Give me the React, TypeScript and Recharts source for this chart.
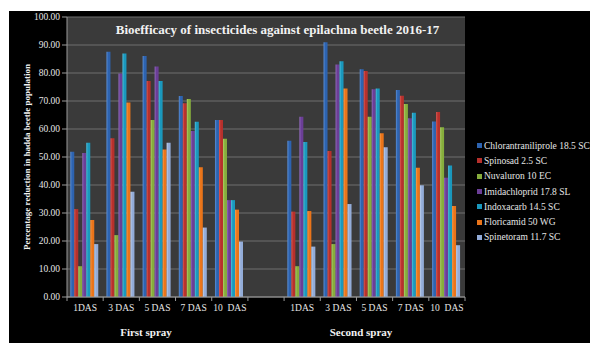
import { BarChart, Bar, XAxis, YAxis, CartesianGrid } from 'recharts';

const categories = ['1DAS', '3 DAS', '5 DAS', '7 DAS', '10  DAS', '', '1DAS', '3 DAS', '5 DAS', '7 DAS', '10  DAS'];

const chlorantraniliprole = [51.9, 87.6, 86.1, 71.8, 63.2, null, 55.8, 91.0, 81.3, 73.9, 62.7];
const spinosad = [31.4, 56.7, 77.1, 69.2, 63.2, null, 30.5, 52.1, 80.7, 71.9, 66.1];
const novaluron = [11.0, 22.1, 63.2, 70.7, 56.5, null, 11.0, 18.9, 64.4, 68.9, 60.6];
const imidacloprid = [51.4, 79.8, 82.3, 59.3, 34.6, null, 64.4, 83.0, 74.2, 63.8, 42.6];
const indoxacarb = [55.1, 87.0, 77.1, 62.6, 34.6, null, 55.4, 84.2, 74.5, 65.8, 47.0];
const flonicamid = [27.5, 69.5, 52.7, 46.3, 31.2, null, 30.7, 74.5, 58.5, 46.2, 32.5];
const spinetoram = [18.9, 37.6, 55.1, 24.8, 19.8, null, 18.0, 33.2, 53.5, 39.9, 18.5];

const yTicks = [0, 10, 20, 30, 40, 50, 60, 70, 80, 90, 100];

const series = [
  { key: 'chl', name: 'Chlorantraniliprole 18.5 SC', values: chlorantraniliprole, color: '#2d63b0', light: '#5b8fd6' },
  { key: 'spi', name: 'Spinosad 2.5 SC', values: spinosad, color: '#b7302c', light: '#dc5a55' },
  { key: 'nov', name: 'Nuvaluron 10 EC', values: novaluron, color: '#86ad3c', light: '#afd066' },
  { key: 'imi', name: 'Imidachloprid 17.8 SL', values: imidacloprid, color: '#6b3e97', light: '#9169bc' },
  { key: 'ind', name: 'Indoxacarb 14.5 SC', values: indoxacarb, color: '#1a98bd', light: '#4fc0de' },
  { key: 'flo', name: 'Floricamid 50 WG', values: flonicamid, color: '#ea7419', light: '#fb9d4c' },
  { key: 'spt', name: 'Spinetoram 11.7 SC', values: spinetoram, color: '#93acd8', light: '#c0d2ef' },
];

const data = categories.map((c, i) => {
  const row: Record<string, number | string | null> = { idx: i, cat: c };
  series.forEach((s) => { row[s.key] = s.values[i]; });
  return row;
});

const W = 590;
const H = 343;
const MARGIN = { top: 17, right: 125, bottom: 0, left: 0 };
const X_H = 46;
const Y_W = 67;
const STEP = (W - MARGIN.right - Y_W) / categories.length;
const SERIF = '"Liberation Serif", "Times New Roman", serif';
const TXT = '#e6e6e6';

function XTick({ x, y, index }: any) {
  const last = index === categories.length - 1;
  return (
    <g>
      <line x1={x - STEP / 2} x2={x - STEP / 2} y1={y} y2={y + 4} stroke="#9a9a9a" />
      {last && <line x1={x + STEP / 2} x2={x + STEP / 2} y1={y} y2={y + 4} stroke="#9a9a9a" />}
      <text x={x} y={y + 14} textAnchor="middle" fill={TXT} fontSize={9.5} fontFamily={SERIF} style={{ whiteSpace: 'pre' }}>
        {categories[index]}
      </text>
    </g>
  );
}

function LegendBox() {
  return (
    <div style={{ position: 'absolute', left: 477, top: 138, fontFamily: SERIF, fontSize: 9.5, color: TXT }}>
      {series.map((s) => (
        <div key={s.key} style={{ display: 'flex', alignItems: 'center', height: 15.3, whiteSpace: 'nowrap' }}>
          <span style={{ width: 5, height: 5, background: s.color, marginRight: 2, display: 'inline-block' }} />
          {s.name}
        </div>
      ))}
    </div>
  );
}

const boldText = { position: 'absolute' as const, whiteSpace: 'nowrap' as const, fontFamily: SERIF, fontWeight: 'bold' as const, color: '#f2f2f2' };

export default function App() {
  return (
    <div style={{ position: 'absolute', left: 0, top: 0, width: W, height: H, background: '#fff', overflow: 'hidden' }}>
      <div style={{ position: 'absolute', left: 9, top: 11, width: W - 9, height: H - 11, background: '#000' }} />
      <div style={{ position: 'absolute', left: 0, top: 0 }}>
        <BarChart width={W} height={H} data={data} margin={MARGIN} barCategoryGap="9%" barGap={0}>
          <defs>
            {series.map((s) => (
              <linearGradient key={s.key} id={`g-${s.key}`} x1="0" y1="0" x2="1" y2="0">
                <stop offset="0%" stopColor={s.light} />
                <stop offset="45%" stopColor={s.color} />
                <stop offset="100%" stopColor={s.color} />
              </linearGradient>
            ))}
          </defs>
          <CartesianGrid fill="#3a3a3a" stroke="#6e6e6e" vertical={false} />
          <XAxis
            dataKey="idx"
            interval={0}
            tickLine={false}
            tickSize={0}
            tickMargin={0}
            axisLine={{ stroke: '#9a9a9a' }}
            tick={<XTick />}
            height={X_H}
          />
          <YAxis
            domain={[0, 100]}
            ticks={yTicks}
            width={Y_W}
            tickFormatter={(v: number) => v.toFixed(2)}
            tick={{ fill: TXT, fontSize: 9.5, fontFamily: SERIF }}
            tickSize={5}
            tickMargin={2}
            tickLine={{ stroke: '#9a9a9a' }}
            axisLine={{ stroke: '#9a9a9a' }}
          />
          {series.map((s) => (
            <Bar key={s.key} dataKey={s.key} name={s.name} fill={`url(#g-${s.key})`} isAnimationActive={false} />
          ))}
        </BarChart>
      </div>
      <LegendBox />
      <div style={{ ...boldText, left: 0, top: 22, width: 555, textAlign: 'center', fontSize: 13 }}>
        Bioefficacy of insecticides against epilachna beetle 2016-17
      </div>
      <div style={{ ...boldText, left: 27, top: 157, transform: 'translate(-50%, -50%) rotate(-90deg)', fontSize: 9 }}>
        Percentage reduction in hadda beetle population
      </div>
      <div style={{ ...boldText, left: 146, top: 332, transform: 'translate(-50%, -50%)', fontSize: 11 }}>
        First spray
      </div>
      <div style={{ ...boldText, left: 361, top: 332, transform: 'translate(-50%, -50%)', fontSize: 11 }}>
        Second spray
      </div>
    </div>
  );
}
